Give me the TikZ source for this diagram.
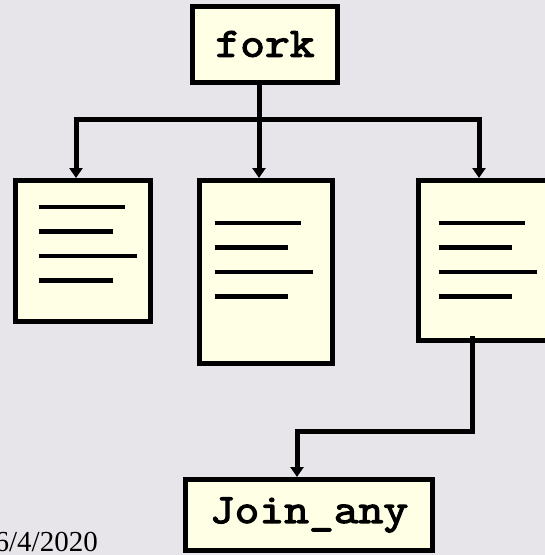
\documentclass[tikz,border=0pt]{standalone}
\usepackage{fontspec}
\setmainfont{Liberation Serif}
\newfontfamily\codefont{Latin Modern Mono}[FakeBold=3, FakeStretch=1.16]
\usetikzlibrary{arrows.meta,calc}

\definecolor{pagebg}{RGB}{231,229,234}
\definecolor{boxfill}{RGB}{255,255,230}

\tikzset{
  box/.style={draw=black, fill=boxfill, line width=5pt, inner sep=0pt, anchor=center},
  label/.style={font=\codefont\fontsize{41.5}{44}\selectfont},
  flow/.style={line width=5pt, -{Triangle[width=13pt,length=10pt]}},
  wire/.style={line width=5pt},
  textline/.style={line width=4.5pt},
}

% four lines of "text" inside a page box, offsets from the outer top-left corner
\newcommand{\pagelines}[5]{%
  \draw[textline] ($(#1.north west)+(#2,#3)$) -- ++(86,0);
  \draw[textline] ($(#1.north west)+(#2,#3+24.5)$) -- ++(#4,0);
  \draw[textline] ($(#1.north west)+(#2,#3+49)$) -- ++(#5,0);
  \draw[textline] ($(#1.north west)+(#2,#3+73.5)$) -- ++(#4,0);
}

\begin{document}
\begin{tikzpicture}[x=1pt,y=-1pt]
  \fill[pagebg] (0,0) rectangle (545,555);
  \useasboundingbox (0,0) rectangle (545,555);

  % boxes
  \node[box, label, minimum width=145pt, minimum height=76pt] (fork) at (265,44) {fork};
  \node[box, minimum width=135pt, minimum height=141pt] (left) at (83,251) {};
  \node[box, minimum width=133pt, minimum height=183pt] (mid) at (266,272) {};
  \node[box, minimum width=133.5pt, minimum height=160pt] (right) at (485.25,260.5) {};
  \node[box, label, minimum width=247pt, minimum height=71pt] (join) at (309,515) {Join\_any};

  % text lines on the pages
  \pagelines{left}{26}{29}{74}{98}
  \pagelines{mid}{18}{45}{73}{98}
  \pagelines{right}{23}{45}{73}{98}

  % fork connectors
  \coordinate (trunk) at (259,119);
  \coordinate (lturn) at (76,119);
  \coordinate (rturn) at (479,119);
  \draw[flow] (fork.south -| trunk) -- (mid.north -| trunk);
  \draw[wire] ([xshift=-2.5pt]lturn) -- ([xshift=2.5pt]rturn);
  \draw[flow] ([yshift=2.5pt]lturn) -- (left.north -| lturn);
  \draw[flow] ([yshift=2.5pt]rturn) -- (right.north -| rturn);

  % join connector
  \coordinate (exit) at (472,336);
  \coordinate (bend1) at (472,431);
  \coordinate (bend2) at (297,431);
  \draw[flow] (exit) -- (bend1) -- (bend2) -- (join.north -| bend2);

  % date
  \node[anchor=base east, inner sep=0pt, font=\fontsize{29}{32}\selectfont] (date) at (98,551) {6/4/2020};
\end{tikzpicture}
\end{document}
